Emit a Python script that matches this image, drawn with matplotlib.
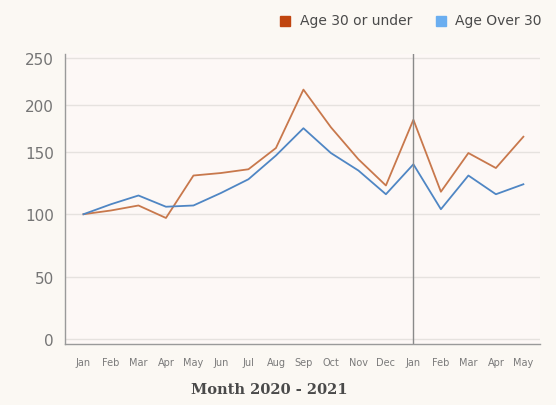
import matplotlib
matplotlib.use("Agg")
import matplotlib.pyplot as plt
from matplotlib.patches import Rectangle
import numpy as np

months = ["Jan", "Feb", "Mar", "Apr", "May", "Jun", "Jul", "Aug", "Sep",
          "Oct", "Nov", "Dec", "Jan", "Feb", "Mar", "Apr", "May"]
under_30 = [100, 103, 107, 97, 131, 133, 136, 154, 216, 176, 144, 123,
            184, 118, 149, 137, 166]
over_30 = [100, 108, 115, 106, 107, 117, 128, 147, 175, 149, 135, 116,
           140, 104, 131, 116, 124]
y_ticks = [0, 50, 100, 150, 200, 250]

# the source chart squeezes the part above 150
def fwd(v):
    v = np.asarray(v, dtype=float)
    return np.where(v <= 150, v * 62.3 / 50, 186.9 + (v - 150) * 47 / 50)

def inv(p):
    p = np.asarray(p, dtype=float)
    return np.where(p <= 186.9, p * 50 / 62.3, 150 + (p - 186.9) * 50 / 47)

bg = "#fbf8f3"
fig = plt.figure(figsize=(5.56, 4.06), dpi=100, facecolor=bg)
ax = fig.add_axes([0.117, 0.150, 0.854, 0.715])
ax.set_facecolor("#fdf8f6")
ax.set_yscale("function", functions=(fwd, inv))

x = np.arange(len(months))
ax.plot(x, under_30, color="#c8784c", lw=1.3)
ax.plot(x, over_30, color="#4f86c4", lw=1.3)
ax.axvline(12, color="#8a8a8a", lw=1.0)

ax.set_xlim(-0.67, 16.6)
ax.set_ylim(-4, 254)
ax.set_yticks(y_ticks)
ax.set_xticks(x)
ax.set_xticklabels(months)
ax.grid(axis="y", color="#e6e2df", lw=1.0)
ax.set_axisbelow(True)
ax.minorticks_off()

for s in ["top", "right"]:
    ax.spines[s].set_visible(False)
for s in ["left", "bottom"]:
    ax.spines[s].set_color("#9a9a9a")
    ax.spines[s].set_linewidth(1.0)

ax.tick_params(axis="y", length=0, pad=8, labelsize=11, labelcolor="#757575")
ax.tick_params(axis="x", length=0, pad=9, labelsize=7, labelcolor="#7a7a7a")

fig.text(0.485, 0.04, "Month 2020 - 2021", ha="center", va="center",
         fontsize=10.5, fontweight="bold", color="#4a4a4a", family="DejaVu Serif")

# legend
fig.patches.append(Rectangle((280 / 556, 1 - 27 / 406), 10 / 556, 10 / 406,
                             transform=fig.transFigure, color="#c0450f"))
fig.text(300 / 556, 1 - 21 / 406, "Age 30 or under", va="center", ha="left",
         fontsize=10, color="#4a4a4a")
fig.patches.append(Rectangle((436 / 556, 1 - 27 / 406), 10 / 556, 10 / 406,
                             transform=fig.transFigure, color="#6aaef0"))
fig.text(455 / 556, 1 - 21 / 406, "Age Over 30", va="center", ha="left",
         fontsize=10, color="#4a4a4a")

fig.savefig("out.png", dpi=100, facecolor=bg)
